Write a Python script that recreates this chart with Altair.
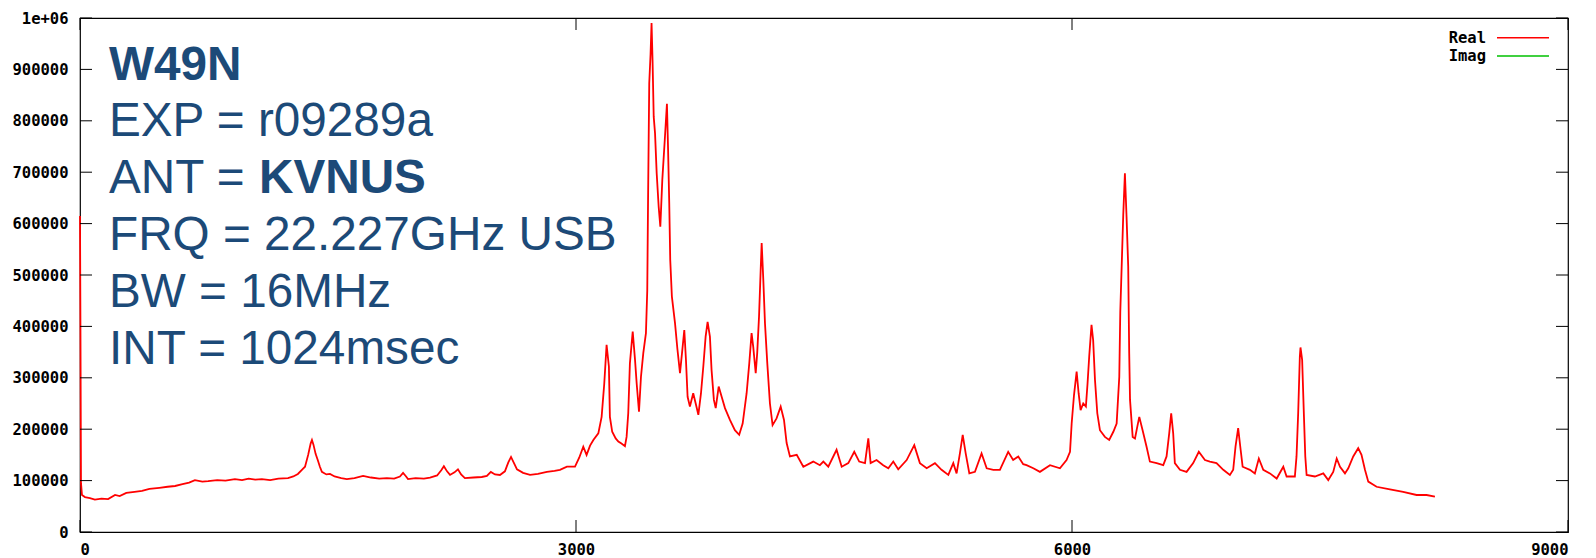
import altair as alt
import pandas as pd

# ---- data ----
channel = [0, 3, 6, 12, 30, 60, 90, 130, 170, 212, 240, 280, 330, 375, 420, 480, 530, 575, 620, 660,
           695, 740, 775, 830, 880, 937, 980, 1020, 1060, 1100, 1150, 1200, 1258, 1290, 1318, 1345, 1361,
           1380, 1395, 1403, 1412, 1425, 1438, 1451, 1463, 1490, 1512, 1540, 1580, 1614, 1660, 1712, 1760,
           1810, 1856, 1900, 1935, 1954, 1970, 1984, 2030, 2080, 2117, 2160, 2185, 2201, 2220, 2238, 2265,
           2286, 2305, 2328, 2380, 2430, 2461, 2485, 2510, 2540, 2570, 2590, 2607, 2625, 2643, 2680, 2722,
           2770, 2824, 2870, 2903, 2945, 2994, 3020, 3044, 3064, 3085, 3105, 3135, 3155, 3171, 3185, 3199,
           3205, 3219, 3240, 3256, 3275, 3296, 3306, 3316, 3326, 3343, 3357, 3367, 3381, 3393, 3407, 3423,
           3431, 3436, 3443, 3451, 3457, 3463, 3470, 3478, 3488, 3500, 3510, 3522, 3537, 3550, 3557, 3564,
           3570, 3580, 3599, 3613, 3629, 3643, 3655, 3665, 3675, 3689, 3709, 3724, 3740, 3756, 3770, 3784,
           3796, 3810, 3820, 3834, 3845, 3863, 3881, 3901, 3931, 3961, 3987, 4008, 4032, 4048, 4062, 4072,
           4087, 4096, 4107, 4117, 4123, 4133, 4143, 4157, 4173, 4189, 4213, 4238, 4258, 4274, 4294, 4335,
           4375, 4435, 4475, 4496, 4526, 4576, 4607, 4647, 4683, 4713, 4748, 4768, 4782, 4818, 4858, 4889,
           4919, 4949, 5000, 5046, 5080, 5121, 5171, 5211, 5252, 5282, 5302, 5322, 5339, 5357, 5379, 5413,
           5453, 5484, 5524, 5564, 5614, 5644, 5675, 5705, 5725, 5766, 5806, 5867, 5927, 5967, 5988, 5998,
           6012, 6028, 6040, 6052, 6068, 6084, 6094, 6104, 6118, 6128, 6139, 6153, 6169, 6199, 6225, 6250,
           6270, 6286, 6292, 6310, 6320, 6330, 6340, 6346, 6351, 6367, 6381, 6395, 6407, 6427, 6451, 6471,
           6512, 6552, 6572, 6588, 6600, 6612, 6622, 6653, 6693, 6733, 6767, 6804, 6834, 6874, 6915, 6955,
           6975, 6989, 7005, 7020, 7032, 7076, 7106, 7130, 7157, 7197, 7238, 7278, 7298, 7348, 7358, 7368,
           7378, 7382, 7392, 7403, 7411, 7419, 7469, 7520, 7550, 7580, 7601, 7621, 7651, 7671, 7701, 7731,
           7751, 7772, 7792, 7842, 7923, 8003, 8084, 8145, 8195]

real = [615000, 372000, 95000, 72000, 68000, 66000, 63000, 65000, 64000, 72000, 70000, 76000, 78000, 80000,
        84000, 86000, 88000, 89500, 93000, 96000, 101000, 98000, 99000, 101000, 100000, 103000, 101000,
        104000, 102000, 103000, 101000, 104000, 105000, 108000, 113000, 122000, 127000, 150000, 172000,
        179000, 170000, 152000, 140000, 127000, 117000, 112000, 113000, 108000, 105000, 103000, 105000,
        109000, 106000, 104000, 105000, 104000, 108000, 115000, 109000, 103000, 105000, 104000, 106000,
        110000, 120000, 128000, 118000, 111000, 116000, 122000, 112000, 105000, 106000, 107000, 109000,
        117000, 112000, 111000, 118000, 135000, 146000, 134000, 122000, 115000, 111000, 113000, 117000,
        119000, 121000, 127000, 127000, 145000, 166000, 150000, 168000, 179000, 192000, 224000, 289000,
        364000, 322000, 224000, 195000, 182000, 176000, 172000, 167000, 185000, 231000, 328000, 390000,
        335000, 289000, 234000, 302000, 348000, 387000, 470000, 652000, 873000, 930000, 990000, 918000,
        808000, 776000, 698000, 633000, 594000, 685000, 763000, 833000, 743000, 639000, 529000, 458000,
        406000, 357000, 309000, 354000, 393000, 335000, 263000, 244000, 270000, 250000, 228000, 270000,
        322000, 380000, 409000, 380000, 315000, 257000, 241000, 283000, 263000, 241000, 218000, 198000,
        189000, 211000, 270000, 328000, 387000, 360000, 309000, 348000, 419000, 510000, 562000, 490000,
        406000, 328000, 250000, 208000, 221000, 244000, 218000, 173000, 147000, 150000, 127000, 137000,
        130000, 137000, 127000, 160000, 127000, 134000, 156000, 137000, 134000, 182000, 134000, 140000,
        130000, 124000, 137000, 122000, 140000, 169000, 134000, 124000, 134000, 121000, 111000, 134000,
        114000, 153000, 189000, 153000, 114000, 117000, 153000, 124000, 121000, 121000, 156000, 140000,
        147000, 132000, 130000, 124000, 117000, 130000, 124000, 140000, 156000, 211000, 266000, 312000,
        270000, 237000, 250000, 244000, 289000, 341000, 403000, 373000, 296000, 231000, 198000, 185000,
        179000, 195000, 211000, 302000, 428000, 617000, 698000, 613000, 516000, 348000, 257000, 185000,
        182000, 205000, 224000, 198000, 166000, 137000, 134000, 130000, 147000, 192000, 231000, 192000,
        134000, 121000, 117000, 134000, 156000, 140000, 137000, 134000, 121000, 111000, 121000, 166000,
        202000, 160000, 127000, 121000, 114000, 143000, 121000, 114000, 104000, 127000, 108000, 108000,
        147000, 231000, 341000, 359000, 335000, 224000, 147000, 111000, 108000, 114000, 101000, 117000,
        143000, 127000, 114000, 124000, 147000, 163000, 150000, 121000, 98000, 88000, 83000, 78000,
        72000, 72000, 69000]

series_names = ["Real", "Imag"]
series_colors = ["#ff0000", "#00c000"]
x_ticks = [0, 3000, 6000, 9000]
y_ticks = [0, 100000, 200000, 300000, 400000, 500000, 600000, 700000, 800000, 900000, 1000000]

info_lines = ["W49N", "EXP = r09289a", "ANT = ", "FRQ = 22.227GHz USB", "BW = 16MHz", "INT = 1024msec"]
info_bold = [True, False, False, False, False, False]
ant_bold_part = "KVNUS"

# ---- layout ----
W, H = 1488, 514
TICK = 12
TXT_COLOR = "#1c4a78"
TXT_FONT = "Liberation Sans"
TXT_SIZE = 47.7
TXT_X = 29
TXT_Y0 = 61.5
TXT_DY = 56.9
MONO = "DejaVu Sans Mono"
MONO_SIZE = 15.5
LEG_TEXT_X = 1406
LEG_LINE_X0, LEG_LINE_X1 = 1417, 1469
LEG_Y0, LEG_DY = 19.7, 18.3

df = pd.DataFrame({"channel": channel, "value": real, "series": "Real"})

xscale = alt.Scale(domain=[0, 9000], nice=False, zero=False)
yscale = alt.Scale(domain=[0, 1000000], nice=False)

line = alt.Chart(df).mark_line(strokeWidth=1.8, interpolate="linear").encode(
    x=alt.X("channel:Q", scale=xscale,
            axis=alt.Axis(values=x_ticks, title=None, ticks=False, domain=False, grid=False,
                          labelFont=MONO, labelFontWeight="bold", labelFontSize=MONO_SIZE,
                          labelColor="black", labelPadding=10, format="d")),
    y=alt.Y("value:Q", scale=yscale,
            axis=alt.Axis(values=y_ticks, title=None, ticks=False, domain=False, grid=False,
                          labelFont=MONO, labelFontWeight="bold", labelFontSize=MONO_SIZE,
                          labelColor="black", labelPadding=12,
                          labelExpr="datum.value == 1000000 ? '1e+06' : format(datum.value, 'd')")),
    color=alt.Color("series:N",
                    scale=alt.Scale(domain=series_names, range=series_colors),
                    legend=None),
)

ydf = pd.DataFrame({"v": y_ticks})
xdf = pd.DataFrame({"v": x_ticks})
ytick_l = alt.Chart(ydf).mark_rule(color="black", strokeWidth=1).encode(
    y=alt.Y("v:Q", scale=yscale), x=alt.value(0), x2=alt.value(TICK))
ytick_r = alt.Chart(ydf).mark_rule(color="black", strokeWidth=1).encode(
    y=alt.Y("v:Q", scale=yscale), x=alt.value(W - TICK), x2=alt.value(W))
xtick_b = alt.Chart(xdf).mark_rule(color="black", strokeWidth=1).encode(
    x=alt.X("v:Q", scale=xscale), y=alt.value(H - TICK), y2=alt.value(H))
xtick_t = alt.Chart(xdf).mark_rule(color="black", strokeWidth=1).encode(
    x=alt.X("v:Q", scale=xscale), y=alt.value(0), y2=alt.value(TICK))

# key (gnuplot style: label on the left, sample line on the right)
key_layers = []
for i, (name, col) in enumerate(zip(series_names, series_colors)):
    kdf = pd.DataFrame({"name": [name]})
    key_layers.append(
        alt.Chart(kdf).mark_text(align="right", baseline="middle", font=MONO,
                                 fontWeight="bold", fontSize=MONO_SIZE, color="black")
        .encode(text="name:N", x=alt.value(LEG_TEXT_X), y=alt.value(LEG_Y0 + LEG_DY * i))
    )
    key_layers.append(
        alt.Chart(kdf).mark_rule(color=col, strokeWidth=1.5)
        .encode(x=alt.value(LEG_LINE_X0), x2=alt.value(LEG_LINE_X1), y=alt.value(LEG_Y0 + LEG_DY * i))
    )

texts = []
for i, (t, b) in enumerate(zip(info_lines, info_bold)):
    texts.append(
        alt.Chart(pd.DataFrame({"t": [t]})).mark_text(
            align="left", baseline="alphabetic", font=TXT_FONT, fontSize=TXT_SIZE,
            fontWeight="bold" if b else "normal", color=TXT_COLOR
        ).encode(text="t:N", x=alt.value(TXT_X), y=alt.value(TXT_Y0 + TXT_DY * i))
    )
texts.append(
    alt.Chart(pd.DataFrame({"t": [ant_bold_part]})).mark_text(
        align="left", baseline="alphabetic", font=TXT_FONT, fontSize=TXT_SIZE,
        fontWeight="bold", color=TXT_COLOR
    ).encode(text="t:N", x=alt.value(TXT_X + 150), y=alt.value(TXT_Y0 + TXT_DY * 2))
)

chart = alt.layer(line, ytick_l, ytick_r, xtick_b, xtick_t, *key_layers, *texts).properties(
    width=W, height=H,
    autosize=alt.AutoSizeParams(type="none"),
    padding={"left": 72, "top": 10, "right": 8, "bottom": 26},
    background="white",
).configure_view(stroke="black", strokeWidth=1.2)

chart.save("out.html", embed_options={"renderer": "svg", "actions": False})
